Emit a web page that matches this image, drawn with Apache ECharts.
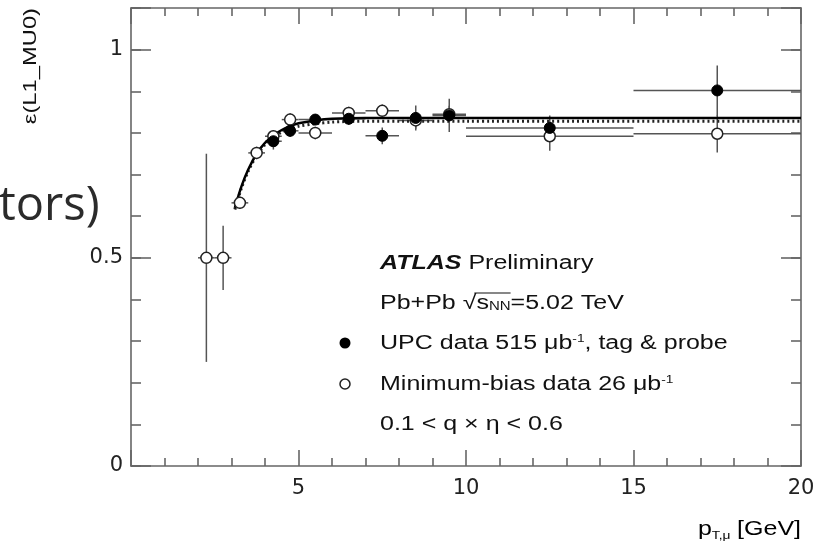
<!DOCTYPE html>
<html><head><meta charset="utf-8">
<script src="https://cdn.jsdelivr.net/npm/echarts@6/dist/echarts.min.js"></script>
<style>html,body{margin:0;padding:0;background:#fff}#c{width:819px;height:547px}</style>
</head><body><div id="c"></div>
<script>
// ---- data ----
const xTickLabels = ['5', '10', '15', '20'];
const yTickLabels = ['0', '0.5', '1'];

// UPC data, tag & probe (filled markers)
const upcX    = [4.25, 4.75, 5.5, 6.5, 7.5, 8.5, 9.5, 12.5, 17.5];
const upcY    = [0.780, 0.805, 0.832, 0.834, 0.793, 0.836, 0.842, 0.812, 0.902];
const upcXErr = [0.25, 0.25, 0.5, 0.5, 0.5, 0.5, 0.5, 2.5, 2.5];
const upcYErr = [0.020, 0.015, 0.012, 0.015, 0.020, 0.030, 0.040, 0.030, 0.060];

// Minimum-bias data (open markers)
const mbX    = [2.25, 2.75, 3.25, 3.75, 4.25, 4.75, 5.5, 6.5, 7.5, 8.5, 9.5, 12.5, 17.5];
const mbY    = [0.500, 0.500, 0.632, 0.752, 0.792, 0.832, 0.800, 0.848, 0.853, 0.830, 0.845, 0.792, 0.798];
const mbXErr = [0.25, 0.25, 0.25, 0.25, 0.25, 0.25, 0.5, 0.5, 0.5, 0.5, 0.5, 2.5, 2.5];
const mbYErr = [0.250, 0.077, 0.015, 0.015, 0.015, 0.015, 0.015, 0.015, 0.015, 0.020, 0.020, 0.035, 0.045];

// fitted curves
const fitX       = [3.1, 3.3, 3.5, 3.75, 4.0, 4.25, 4.5, 4.75, 5.0, 5.5, 6.0, 7.0, 8.0, 10, 20];
const fitSolidY  = [0.620, 0.672, 0.712, 0.750, 0.776, 0.794, 0.807, 0.816, 0.823, 0.830, 0.834, 0.836, 0.836, 0.836, 0.836];
const fitDottedY = [0.616, 0.668, 0.708, 0.746, 0.772, 0.790, 0.802, 0.810, 0.816, 0.822, 0.826, 0.828, 0.828, 0.828, 0.828];

// texts
const yTitle = 'ε(L1_MU0)';
const slideText = 'tors)';

// ---- chart ----
const FONT = '"Liberation Sans", Arial, Helvetica, sans-serif';
const LABEL_FONT = '"DejaVu Sans", "Liberation Sans", sans-serif';
const frame = {color: '#666', width: 1.6};
function lbl(list) {
  return v => { const s = String(Math.round(v * 1000) / 1000); return list.indexOf(s) >= 0 ? s : ''; };
}
function xAx(pos, show) {
  return {
    type: 'value', min: 0, max: 20, interval: 5, position: pos,
    axisLine: {show: true, onZero: false, lineStyle: frame},
    axisTick: {show: true, inside: true, length: 16, lineStyle: frame},
    minorTick: {show: true, splitNumber: 5, length: 8, lineStyle: frame},
    splitLine: {show: false}, minorSplitLine: {show: false},
    axisLabel: {show: show, formatter: lbl(xTickLabels), fontSize: 21, fontFamily: LABEL_FONT, color: '#222', margin: 12}
  };
}
function yAx(pos, interval, len, showLine, showLabel) {
  return {
    type: 'value', min: 0, max: 1.1, interval: interval, position: pos,
    axisLine: {show: showLine, onZero: false, lineStyle: frame},
    axisTick: {show: true, inside: true, length: len, lineStyle: frame},
    splitLine: {show: false},
    axisLabel: {show: showLabel, formatter: lbl(yTickLabels), fontSize: 21, fontFamily: LABEL_FONT, color: '#222', margin: 8}
  };
}
function errRender(params, api) {
  const x = api.value(0), y = api.value(1), xe = api.value(2), ye = api.value(3);
  const l = api.coord([x - xe, y]), r = api.coord([x + xe, y]);
  const t = api.coord([x, y + ye]), b = api.coord([x, y - ye]);
  const st = {stroke: '#555', lineWidth: 1.5};
  return {type: 'group', children: [
    {type: 'line', shape: {x1: l[0], y1: l[1], x2: r[0], y2: r[1]}, style: st},
    {type: 'line', shape: {x1: t[0], y1: t[1], x2: b[0], y2: b[1]}, style: st}
  ]};
}
const upcErr = upcX.map((x, i) => [x, upcY[i], upcXErr[i], upcYErr[i]]);
const mbErr = mbX.map((x, i) => [x, mbY[i], mbXErr[i], mbYErr[i]]);

// measure for sqrt overline
const mctx = document.createElement('canvas').getContext('2d');
function tw(t, size) { mctx.font = size + 'px ' + FONT; return mctx.measureText(t).width; }

const LX = 380, SX = 1.25, FS = 20;
const lineY = [263, 303, 343, 384, 424];
const txtColor = '#111';
const baseRich = {
  t: {fontSize: FS, fontFamily: FONT, color: txtColor},
  b: {fontSize: FS, fontFamily: FONT, color: txtColor, fontWeight: 'bold', fontStyle: 'italic'},
  sup: {fontSize: 11, fontFamily: FONT, color: txtColor, verticalAlign: 'top'},
  sub: {fontSize: 12, fontFamily: FONT, color: txtColor, verticalAlign: 'bottom'}
};
function legText(y, text) {
  return {type: 'text', x: LX, y: y, scaleX: SX, z: 10,
    style: {text: text, rich: baseRich, fontSize: FS, fontFamily: FONT, fill: txtColor, align: 'left', verticalAlign: 'middle'}};
}
const preW = tw('Pb+Pb ', FS), sqW = tw('√', FS), sW = tw('s', FS), nnW = tw('NN', 12);
const olX1 = LX + SX * (preW + sqW * 0.85), olX2 = LX + SX * (preW + sqW + sW + nnW);

const option = {
  animation: false,
  backgroundColor: '#fff',
  grid: {left: 131, right: 18, top: 8, bottom: 81},
  xAxis: [xAx('bottom', true), xAx('top', false)],
  yAxis: [yAx('left', 0.5, 20, true, true), yAx('left', 0.1, 10, false, false),
          yAx('right', 0.5, 20, true, false), yAx('right', 0.1, 10, false, false)],
  series: [
    {type: 'custom', renderItem: errRender, data: mbErr, encode: {x: 0, y: 1}, z: 2, clip: true},
    {type: 'custom', renderItem: errRender, data: upcErr, encode: {x: 0, y: 1}, z: 2, clip: true},
    {type: 'line', data: fitX.map((x, i) => [x, fitDottedY[i]]), smooth: 0.3, showSymbol: false,
     lineStyle: {color: '#222', width: 3, type: [2, 3]}, z: 3},
    {type: 'line', data: fitX.map((x, i) => [x, fitSolidY[i]]), smooth: 0.3, showSymbol: false,
     lineStyle: {color: '#000', width: 2.5}, z: 3},
    {type: 'scatter', data: mbX.map((x, i) => [x, mbY[i]]), symbol: 'circle', symbolSize: 11,
     itemStyle: {color: '#fff', borderColor: '#222', borderWidth: 1.5, opacity: 1}, z: 4},
    {type: 'scatter', data: upcX.map((x, i) => [x, upcY[i]]), symbol: 'circle', symbolSize: 11,
     itemStyle: {color: '#000', borderColor: '#000', borderWidth: 1, opacity: 1}, z: 5}
  ],
  graphic: [
    {type: 'text', x: -1, y: 207, z: 10,
     style: {text: slideText, font: '47px "Open Sans", sans-serif', fill: '#2b2b2b', align: 'left', verticalAlign: 'middle'}},
    {type: 'text', x: 31, y: 8, rotation: Math.PI / 2, scaleX: SX, z: 10,
     style: {text: yTitle, fontSize: 19, fontFamily: FONT, fill: txtColor, align: 'right', verticalAlign: 'middle'}},
    {type: 'text', x: 801, y: 529, scaleX: SX, z: 10,
     style: {text: '{t|p}{sub|T,μ} {t|[GeV]}', rich: {
       t: {fontSize: FS, fontFamily: FONT, color: txtColor},
       sub: {fontSize: 11, fontFamily: FONT, color: txtColor, padding: [14, 2, 0, 0]}},
       align: 'right', verticalAlign: 'middle'}},
    legText(lineY[0], '{b|ATLAS}{t| Preliminary}'),
    legText(lineY[1], '{t|Pb+Pb √s}{sub|NN}{t|=5.02 TeV}'),
    legText(lineY[2], '{t|UPC data 515 μb}{sup|-1}{t|, tag & probe}'),
    legText(lineY[3], '{t|Minimum-bias data 26 μb}{sup|-1}'),
    legText(lineY[4], '{t|0.1 < q × η < 0.6}'),
    {type: 'line', z: 10, shape: {x1: olX1, y1: lineY[1] - 10, x2: olX2, y2: lineY[1] - 10},
     style: {stroke: txtColor, lineWidth: 1.2}},
    {type: 'circle', x: 345, y: lineY[2], z: 10, shape: {r: 5.5}, style: {fill: '#000'}},
    {type: 'circle', x: 345, y: lineY[3], z: 10, shape: {r: 5}, style: {fill: '#fff', stroke: '#222', lineWidth: 1.5}}
  ]
};
const chart = echarts.init(document.getElementById('c'));
chart.setOption(option);
</script>
</body></html>
